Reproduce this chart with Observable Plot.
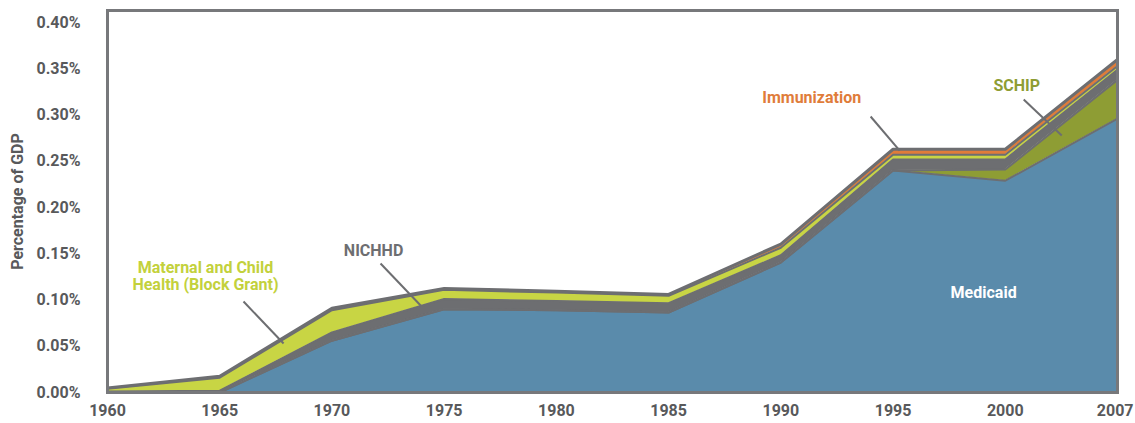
<!DOCTYPE html>
<html>
<head>
<meta charset="utf-8">
<script src="https://cdn.jsdelivr.net/npm/d3@7"></script>
<script src="https://cdn.jsdelivr.net/npm/@observablehq/plot@0.6"></script>
<style>
  html, body { margin: 0; padding: 0; background: #fff; }
  #chart svg { display: block; }
</style>
</head>
<body>
<div id="chart"></div>
<script>
// Categories (x axis tick labels, equally spaced)
const years = ["1960","1965","1970","1975","1980","1985","1990","1995","2000","2007"];
// Series values, percent of GDP (stack order bottom -> top)
const medicaid     = [0, 0, 0.056, 0.090, 0.089, 0.0865, 0.1405, 0.240, 0.229, 0.296];
const schip        = [0, 0, 0, 0, 0, 0, 0, 0, 0.012, 0.042];
const nichhd       = [0.001, 0.002, 0.009, 0.011, 0.010, 0.010, 0.008, 0.012, 0.011, 0.011];
const mch          = [0.003, 0.014, 0.024, 0.010, 0.009, 0.008, 0.008, 0.005, 0.005, 0.004];
const immunization = [0.001, 0.0015, 0.002, 0.0015, 0.0015, 0.0015, 0.004, 0.006, 0.006, 0.007];
const seriesNames  = ["Medicaid", "SCHIP", "NICHHD", "Maternal and Child Health (Block Grant)", "Immunization"];
const yTicks = [0, 0.05, 0.10, 0.15, 0.20, 0.25, 0.30, 0.35, 0.40];

const seriesValues = [medicaid, schip, nichhd, mch, immunization];
const colors = ["#5a8bab", "#8e9d34", "#6d6e71", "#c8d544", "#e07c3a"];
const gray = "#6d6e71";
const textGray = "#58595b";
const font = "Roboto, 'Liberation Sans', sans-serif";

// Build stacked table
const rows = [];
const base = years.map(() => 0);
seriesValues.forEach((vals, s) => {
  years.forEach((yr, i) => {
    const y1 = base[i];
    const y2 = y1 + vals[i];
    rows.push({series: seriesNames[s], s, i, y1, y2});
    base[i] = y2;
  });
});

const last = years.length - 1;
const plot = Plot.plot({
  width: 1135,
  height: 423,
  marginLeft: 107,
  marginRight: 18,
  marginTop: 10,
  marginBottom: 31,
  style: {fontFamily: font, fontWeight: "bold", background: "#fff"},
  x: {domain: [0, last]},
  y: {domain: [0, 0.413]},
  color: {domain: seriesNames, range: colors},
  marks: [
    Plot.areaY(rows, {x: "i", y1: "y1", y2: "y2", z: "series", fill: "series", curve: "linear"}),
    Plot.line(rows.filter(d => d.s < seriesNames.length - 1), {x: "i", y: "y2", z: "series", stroke: gray, strokeWidth: 2}),
    Plot.line(rows.filter(d => d.s === seriesNames.length - 1), {x: "i", y: "y2", stroke: gray, strokeWidth: 3}),
    Plot.frame({stroke: "#77787b", strokeWidth: 3}),
    Plot.axisY({
      ticks: yTicks, tickSize: 0, tickPadding: 27,
      tickFormat: d => d.toFixed(2) + "%",
      fontSize: 16, fill: textGray,
      label: "Percentage of GDP", labelAnchor: "center", labelOffset: 96, labelArrow: "none"
    }),
    Plot.axisX({
      ticks: d3.range(last), tickSize: 0, tickPadding: 12,
      tickFormat: i => years[i], fontSize: 16, fill: textGray, label: null
    }),
    Plot.axisX({
      ticks: [last], tickSize: 0, tickPadding: 12, textAnchor: "end", dx: 16,
      tickFormat: i => years[i], fontSize: 16, fill: textGray, label: null
    }),
    // Annotations
    Plot.link([{x1: 1.212, y1: 0.0984, x2: 1.569, y2: 0.053}], {x1: "x1", y1: "y1", x2: "x2", y2: "y2", stroke: gray, strokeWidth: 2}),
    Plot.link([{x1: 2.433, y1: 0.1395, x2: 2.799, y2: 0.093}], {x1: "x1", y1: "y1", x2: "x2", y2: "y2", stroke: gray, strokeWidth: 2}),
    Plot.link([{x1: 6.80, y1: 0.2984, x2: 7.059, y2: 0.2616}], {x1: "x1", y1: "y1", x2: "x2", y2: "y2", stroke: gray, strokeWidth: 2}),
    Plot.link([{x1: 8.164, y1: 0.3168, x2: 8.503, y2: 0.2778}], {x1: "x1", y1: "y1", x2: "x2", y2: "y2", stroke: gray, strokeWidth: 2}),
    Plot.text([{x: 0.873, y: 0.1254}], {x: "x", y: "y", text: () => "Maternal and Child\nHealth (Block Grant)", fill: "#c3d13c", fontSize: 16, lineHeight: 1.05}),
    Plot.text([{x: 2.371, y: 0.1535}], {x: "x", y: "y", text: () => "NICHHD", fill: gray, fontSize: 16}),
    Plot.text([{x: 6.275, y: 0.318}], {x: "x", y: "y", text: () => "Immunization", fill: "#e07c3a", fontSize: 16}),
    Plot.text([{x: 8.102, y: 0.331}], {x: "x", y: "y", text: () => "SCHIP", fill: "#8e9d34", fontSize: 16}),
    Plot.text([{x: 7.807, y: 0.108}], {x: "x", y: "y", text: () => "Medicaid", fill: "#fff", fontSize: 16})
  ]
});
document.getElementById("chart").appendChild(plot);
</script>
</body>
</html>
